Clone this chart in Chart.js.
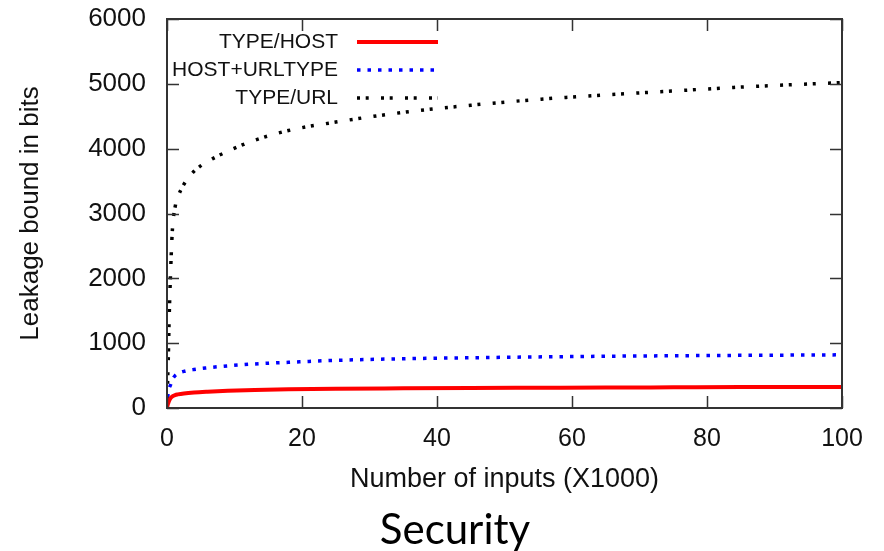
<!DOCTYPE html>
<html>
<head>
<meta charset="utf-8">
<script src="https://cdn.jsdelivr.net/npm/chart.js@4"></script>
<style>
  html, body { margin: 0; padding: 0; background: #fff; }
  canvas { display: block; }
</style>
</head>
<body>
<canvas id="grafico" width="884" height="551"></canvas>
<script>
// dados (x em milhares de entradas)
const inputs      = [0, 0.1, 0.2, 0.3, 0.5, 0.8, 1.2, 1.6, 2.5, 4, 6, 9, 13, 18, 25, 35, 45, 55, 65, 75, 85, 100];
const typeHost    = [0, 50, 80, 110, 150, 180, 200, 210, 225, 240, 252, 265, 278, 288, 297, 303, 308, 312, 316, 319, 322, 325];
const hostUrlType = [0, 150, 250, 300, 350, 440, 500, 530, 565, 595, 620, 650, 680, 705, 735, 760, 775, 788, 798, 806, 812, 820];
const typeUrl     = [0, 450, 800, 1300, 2000, 2750, 3100, 3250, 3450, 3650, 3800, 3960, 4130, 4280, 4410, 4560, 4670, 4760, 4830, 4890, 4950, 5020];
const seriesNames = ['TYPE/HOST', 'HOST+URLTYPE', 'TYPE/URL'];
const xTicks = [0, 20, 40, 60, 80, 100];
const yTicks = [0, 1000, 2000, 3000, 4000, 5000, 6000];
const legenda_titulo = 'Security';

const toPoints = vals => vals.map((v, i) => ({ x: inputs[i], y: v }));

// moldura e marcas de escala para dentro (estilo gnuplot)
const moldura = {
  id: 'moldura',
  afterDatasetsDraw(chart) {
    const { ctx, chartArea: a, scales } = chart;
    const len = 12;
    ctx.save();
    ctx.strokeStyle = '#333';
    ctx.lineWidth = 1.5;
    ctx.beginPath();
    scales.x.ticks.forEach(t => {
      const px = Math.round(scales.x.getPixelForValue(t.value)) + 0.5;
      ctx.moveTo(px, a.bottom); ctx.lineTo(px, a.bottom - len);
      ctx.moveTo(px, a.top); ctx.lineTo(px, a.top + len);
    });
    scales.y.ticks.forEach(t => {
      const py = Math.round(scales.y.getPixelForValue(t.value)) + 0.5;
      ctx.moveTo(a.left, py); ctx.lineTo(a.left + len, py);
      ctx.moveTo(a.right, py); ctx.lineTo(a.right - len, py);
    });
    ctx.stroke();
    ctx.lineWidth = 2;
    ctx.strokeRect(a.left, a.top, a.right - a.left, a.bottom - a.top);
    ctx.restore();
  }
};

// legenda dentro do gráfico, texto alinhado à direita + legenda "Security" embaixo
const legenda = {
  id: 'legenda',
  afterDraw(chart) {
    const { ctx, chartArea: a } = chart;
    ctx.save();
    ctx.font = '21px "Liberation Sans", Arial, sans-serif';
    ctx.fillStyle = '#111';
    ctx.textAlign = 'right';
    ctx.textBaseline = 'middle';
    chart.data.datasets.forEach((ds, i) => {
      const y = a.top + 23 + i * 28;
      ctx.fillText(ds.label, a.left + 171, y);
      ctx.beginPath();
      ctx.strokeStyle = ds.borderColor;
      ctx.lineWidth = ds.borderWidth;
      ctx.setLineDash(ds.borderDash || []);
      ctx.moveTo(a.left + 190, y);
      ctx.lineTo(a.left + 271, y);
      ctx.stroke();
    });
    ctx.setLineDash([]);
    ctx.font = '42px Lato, "Open Sans", sans-serif';
    ctx.fillStyle = '#000';
    ctx.textAlign = 'center';
    ctx.textBaseline = 'alphabetic';
    ctx.fillText(legenda_titulo, a.left + 288, a.bottom + 136);
    ctx.restore();
  }
};

new Chart(document.getElementById('grafico'), {
  type: 'line',
  data: {
    datasets: [{
      label: seriesNames[0],
      data: toPoints(typeHost),
      borderColor: '#ff0000',
      borderWidth: 4,
      pointRadius: 0,
      cubicInterpolationMode: 'monotone'
    }, {
      label: seriesNames[1],
      data: toPoints(hostUrlType),
      borderColor: '#0000ff',
      borderWidth: 3.5,
      borderDash: [3.5, 7],
      pointRadius: 0,
      cubicInterpolationMode: 'monotone'
    }, {
      label: seriesNames[2],
      data: toPoints(typeUrl),
      borderColor: '#000000',
      borderWidth: 3.5,
      borderDash: [3, 5.7, 3, 12.3],
      pointRadius: 0,
      cubicInterpolationMode: 'monotone'
    }]
  },
  options: {
    responsive: false,
    animation: false,
    devicePixelRatio: 1,
    layout: { padding: { top: 19, right: 42, left: 0, bottom: 0 } },
    plugins: {
      legend: { display: false },
      tooltip: { enabled: false }
    },
    scales: {
      x: {
        type: 'linear',
        min: 0,
        max: 100,
        afterBuildTicks: s => { s.ticks = xTicks.map(v => ({ value: v })); },
        afterFit: s => { s.height = 143; s.paddingLeft = 0; s.paddingRight = 0; },
        grid: { display: false, drawTicks: false, tickLength: 0 },
        border: { display: false },
        ticks: {
          padding: 16,
          color: '#111',
          font: { family: '"Liberation Sans", Arial, sans-serif', size: 25 },
          callback: v => String(v)
        },
        title: {
          display: true,
          text: 'Number of inputs (X1000)',
          color: '#111',
          font: { family: '"Liberation Sans", Arial, sans-serif', size: 27 },
          padding: { top: 0, bottom: 55 }
        }
      },
      y: {
        min: 0,
        max: 6000,
        afterBuildTicks: s => { s.ticks = yTicks.map(v => ({ value: v })); },
        afterFit: s => { s.width = 167; s.paddingTop = 0; s.paddingBottom = 0; },
        grid: { display: false, drawTicks: false, tickLength: 0 },
        border: { display: false },
        ticks: {
          padding: 21,
          color: '#111',
          font: { family: '"Liberation Sans", Arial, sans-serif', size: 26 },
          callback: v => String(v)
        },
        title: {
          display: true,
          text: 'Leakage bound in bits',
          color: '#111',
          font: { family: '"Liberation Sans", Arial, sans-serif', size: 26 },
          padding: { top: 15, bottom: 0 }
        }
      }
    }
  },
  plugins: [moldura, legenda]
});
</script>
</body>
</html>
